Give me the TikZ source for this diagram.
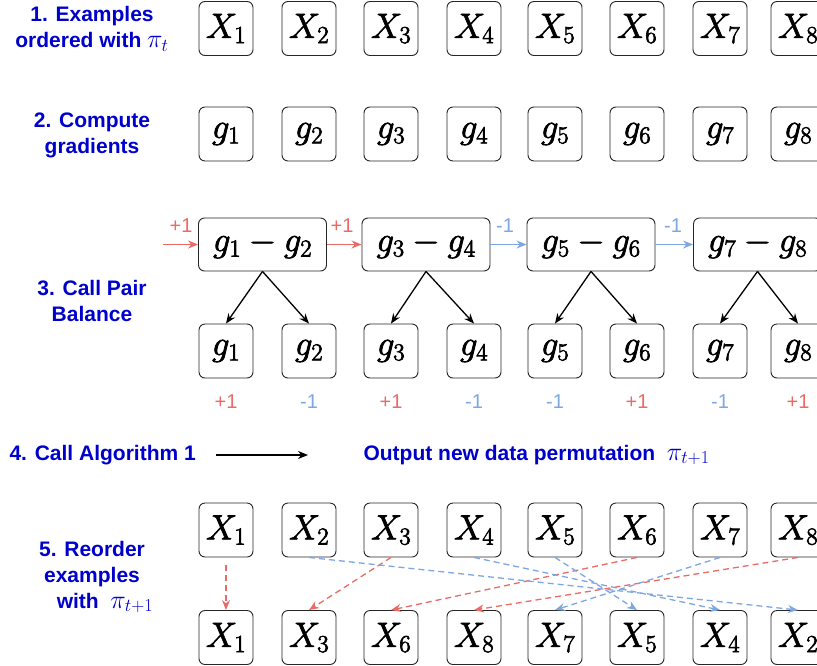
\RequirePackage{fix-cm}
\documentclass[tikz,border=0pt]{standalone}
\usepackage{fontspec}
\newfontfamily\arial{Liberation Sans}
\usetikzlibrary{arrows.meta}
\definecolor{lred}{HTML}{EA6B66}
\definecolor{lblue}{HTML}{7EA6E0}
\definecolor{tblue}{HTML}{0000CC}
\newcommand{\heavytxt}[1]{\special{pdf:literal direct 2 Tr 0.7 w}#1\special{pdf:literal direct 0 Tr}}
\newcommand{\bigmath}[1]{{\fontsize{26}{26}\selectfont$#1$}}
\tikzset{
  box/.style={draw=black!85, rounded corners=6pt, line width=0.9pt, minimum width=54pt, minimum height=54pt, inner sep=0pt, font=\fontsize{35}{38}\selectfont},
  wbox/.style={box, minimum width=128pt, minimum height=53pt},
  lbl/.style={text=tblue, font=\arial\bfseries\fontsize{21}{26}\selectfont, align=center},
  sgn/.style={font=\arial\fontsize{20}{24}\selectfont},
  plus/.style={sgn, text=lred},
  minus/.style={sgn, text=lblue},
  con/.style={line width=1.3pt, -{Stealth[length=10pt,width=8pt]}},
  rcon/.style={con, draw=lred},
  bcon/.style={con, draw=lblue},
  dcon/.style={con, dash pattern=on 6pt off 4pt},
}
\begin{document}
\begin{tikzpicture}[x=1pt,y=-1pt]
\useasboundingbox (0,0) rectangle (817,665);
\clip (0,0) rectangle (817,665);
% rows of boxes
\foreach \i/\x in {1/226,2/309,3/391,4/474,5/555,6/637,7/720,8/798}{
  \node[box] (X\i) at (\x,28.5) {\heavytxt{$X_{\i}$}};
  \node[box] (g\i) at (\x,134) {\heavytxt{$g_{\i}$}};
  \node[box] (h\i) at (\x,351) {\heavytxt{$g_{\i}$}};
  \node[box] (A\i) at (\x,530) {\heavytxt{$X_{\i}$}};
}
% signs
\node[plus]  (s1) at (226,402) {+1};
\node[minus] (s2) at (309,402) {-1};
\node[plus]  (s3) at (391,402) {+1};
\node[minus] (s4) at (474,402) {-1};
\node[minus] (s5) at (555,402) {-1};
\node[plus]  (s6) at (637,402) {+1};
\node[minus] (s7) at (720,402) {-1};
\node[plus]  (s8) at (798,402) {+1};
% wide boxes
\node[wbox] (w1) at (262.5,244.5) {\heavytxt{$g_1 - g_2$}};
\node[wbox] (w2) at (426,244.5) {\heavytxt{$g_3 - g_4$}};
\node[wbox] (w3) at (591,244.5) {\heavytxt{$g_5 - g_6$}};
\node[wbox] (w4) at (757.5,244.5) {\heavytxt{$g_7 - g_8$}};
\draw[con] (w1.south) -- (h1.north);
\draw[con] (w1.south) -- (h2.north);
\draw[con] (w2.south) -- (h3.north);
\draw[con] (w2.south) -- (h4.north);
\draw[con] (w3.south) -- (h5.north);
\draw[con] (w3.south) -- (h6.north);
\draw[con] (w4.south) -- (h7.north);
\draw[con] (w4.south) -- (h8.north);
\coordinate (in) at (163,244.5);
\draw[rcon] (in) -- (w1.west);
\draw[rcon] (w1.east) -- (w2.west);
\draw[bcon] (w2.east) -- (w3.west);
\draw[bcon] (w3.east) -- (w4.west);
\node[plus]  (p0) at (181,226) {+1};
\node[plus]  (p1) at (342,226) {+1};
\node[minus] (p2) at (505,226) {-1};
\node[minus] (p3) at (673,226) {-1};
% bottom row (new order)
\node[box] (B1) at (226,637.5) {\heavytxt{$X_{1}$}};
\node[box] (B3) at (309,637.5) {\heavytxt{$X_{3}$}};
\node[box] (B6) at (391,637.5) {\heavytxt{$X_{6}$}};
\node[box] (B8) at (474,637.5) {\heavytxt{$X_{8}$}};
\node[box] (B7) at (555,637.5) {\heavytxt{$X_{7}$}};
\node[box] (B5) at (637,637.5) {\heavytxt{$X_{5}$}};
\node[box] (B4) at (720,637.5) {\heavytxt{$X_{4}$}};
\node[box] (B2) at (798,637.5) {\heavytxt{$X_{2}$}};
\draw[dcon, draw=lred, shorten <=8pt] (A1.south) -- (B1.north);
\draw[dcon, draw=lred] (A3.south) -- (B3.north);
\draw[dcon, draw=lred] (A6.south) -- (B6.north);
\draw[dcon, draw=lred] (A8.south) -- (B8.north);
\draw[dcon, draw=lblue] (A7.south) -- (B7.north);
\draw[dcon, draw=lblue] (A5.south) -- (B5.north);
\draw[dcon, draw=lblue] (A4.south) -- (B4.north);
\draw[dcon, draw=lblue] (A2.south) -- (B2.north);
% labels
\node[lbl] (l1) at (92,29) {1. Examples\\ordered with \bigmath{\pi_t}};
\node[lbl] (l2) at (92,135) {2. Compute\\gradients};
\node[lbl] (l3) at (92,301) {3. Call Pair\\Balance};
\node[lbl, anchor=west] (l4) at (6,455) {4. Call Algorithm 1};
\coordinate (a4s) at (216,455);
\coordinate (a4e) at (308,455);
\draw[con] (a4s) -- (a4e);
\node[lbl, anchor=west] (l6) at (360,455) {Output new data permutation\ \ \bigmath{\pi_{t+1}}};
\node[lbl] (l5) at (92,577) {5. Reorder\\examples\\\hspace*{26pt}with\ \ \bigmath{\pi_{t+1}}};
\end{tikzpicture}
\end{document}
